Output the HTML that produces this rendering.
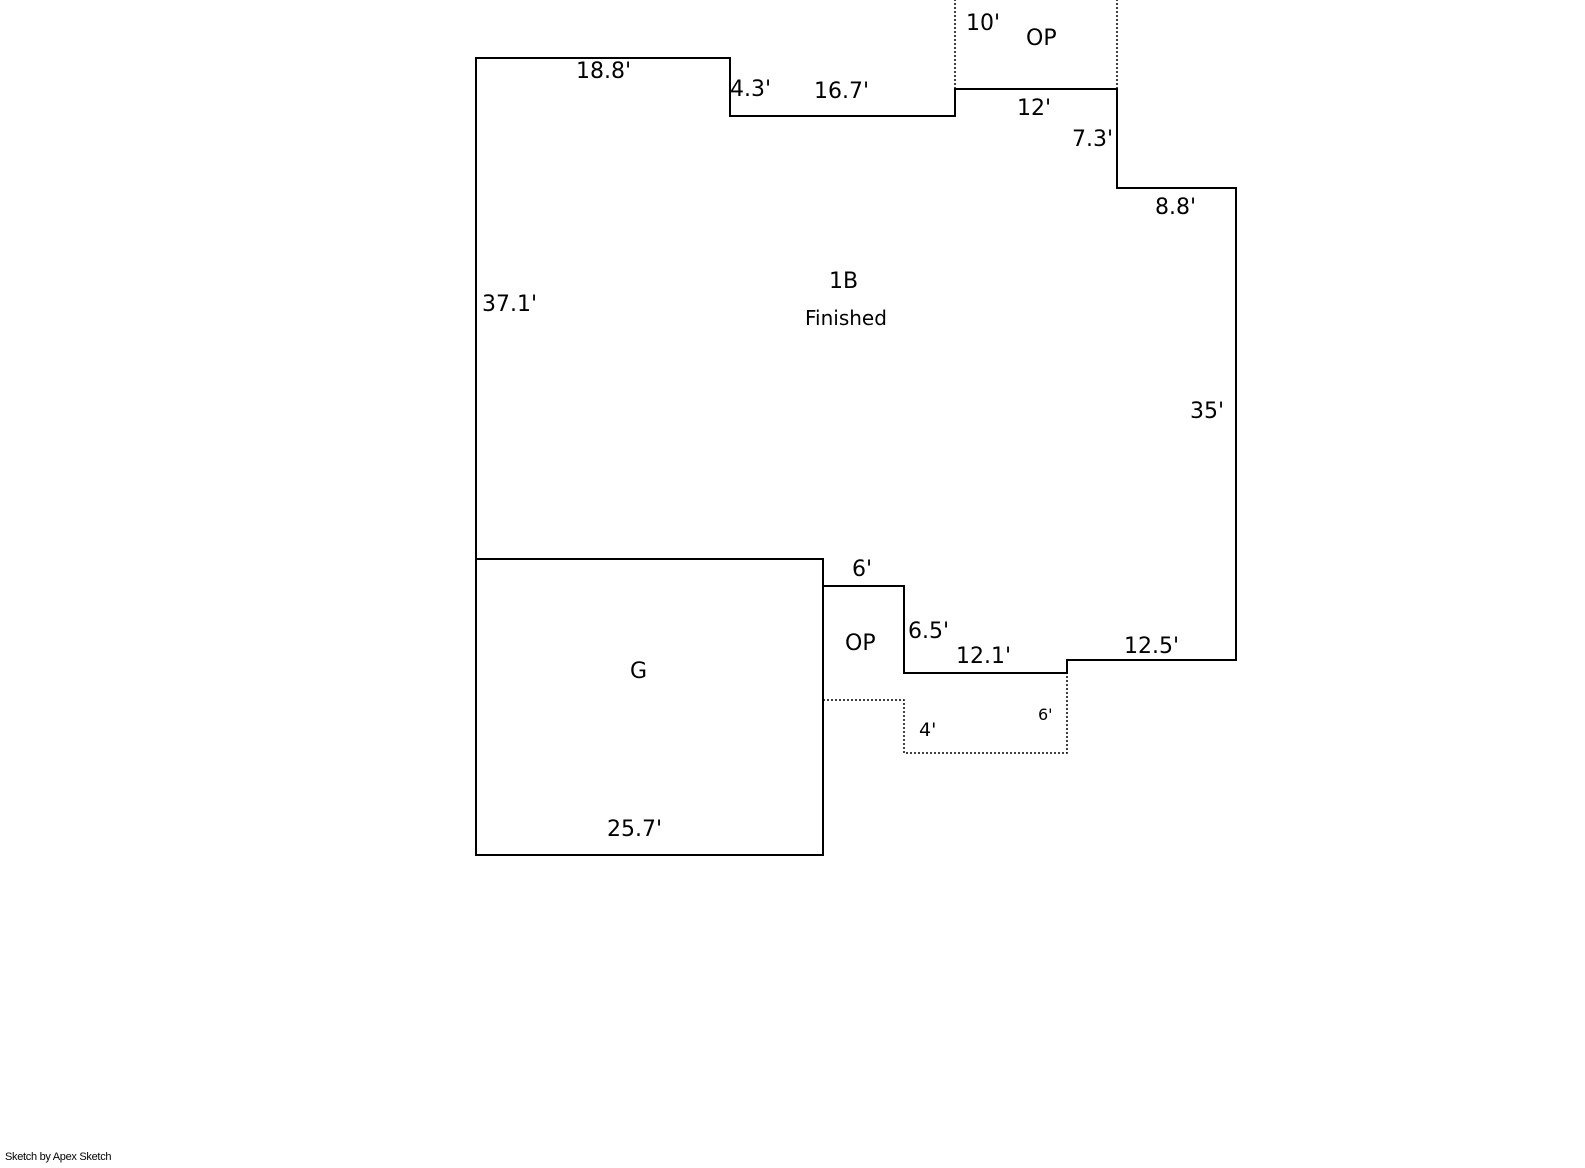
<!DOCTYPE html>
<html><head><style>
body{margin:0;background:#fff;width:1585px;height:1163px;overflow:hidden}
svg text{font-family:"DejaVu Sans","Liberation Sans",sans-serif;fill:#000}
</style></head><body>
<svg width="1585" height="1163" viewBox="0 0 1585 1163">
<g fill="none" stroke="#000" stroke-width="2">
<path d="M476,559 L476,58 L730,58 L730,116 L955,116 L955,89 L1117,89 L1117,188 L1236,188 L1236,660 L1067,660 L1067,673 L904,673 L904,586 L823,586 L823,559"/>
<rect x="476" y="559" width="347" height="296"/>
</g>
<g fill="none" stroke="#000" stroke-width="1.5" stroke-dasharray="2,2">
<path d="M955,89 L955,0 M1117,89 L1117,0"/>
<path d="M823,700 L904,700 L904,753 L1067,753 L1067,673"/>
</g>
<g font-size="22">
<text x="576" y="78">18.8'</text>
<text x="730" y="96">4.3'</text>
<text x="814" y="98">16.7'</text>
<text x="966" y="30">10'</text>
<text x="1026" y="45">OP</text>
<text x="1017" y="115">12'</text>
<text x="1072" y="146">7.3'</text>
<text x="1155" y="214">8.8'</text>
<text x="829" y="288">1B</text>
<text x="482" y="311">37.1'</text>
<text x="1190" y="418">35'</text>
<text x="852" y="576">6'</text>
<text x="908" y="638">6.5'</text>
<text x="845" y="650">OP</text>
<text x="956" y="663">12.1'</text>
<text x="1124" y="653">12.5'</text>
<text x="630" y="678">G</text>
<text x="607" y="836">25.7'</text>
</g>
<text x="805" y="325" font-size="20">Finished</text>
<text x="919" y="736" font-size="19">4'</text>
<text x="1038" y="720" font-size="16">6'</text>
<text x="5" y="1160" font-size="11" style="font-family:'Liberation Sans',sans-serif" letter-spacing="-0.3">Sketch by Apex Sketch</text>
</svg>
</body></html>
